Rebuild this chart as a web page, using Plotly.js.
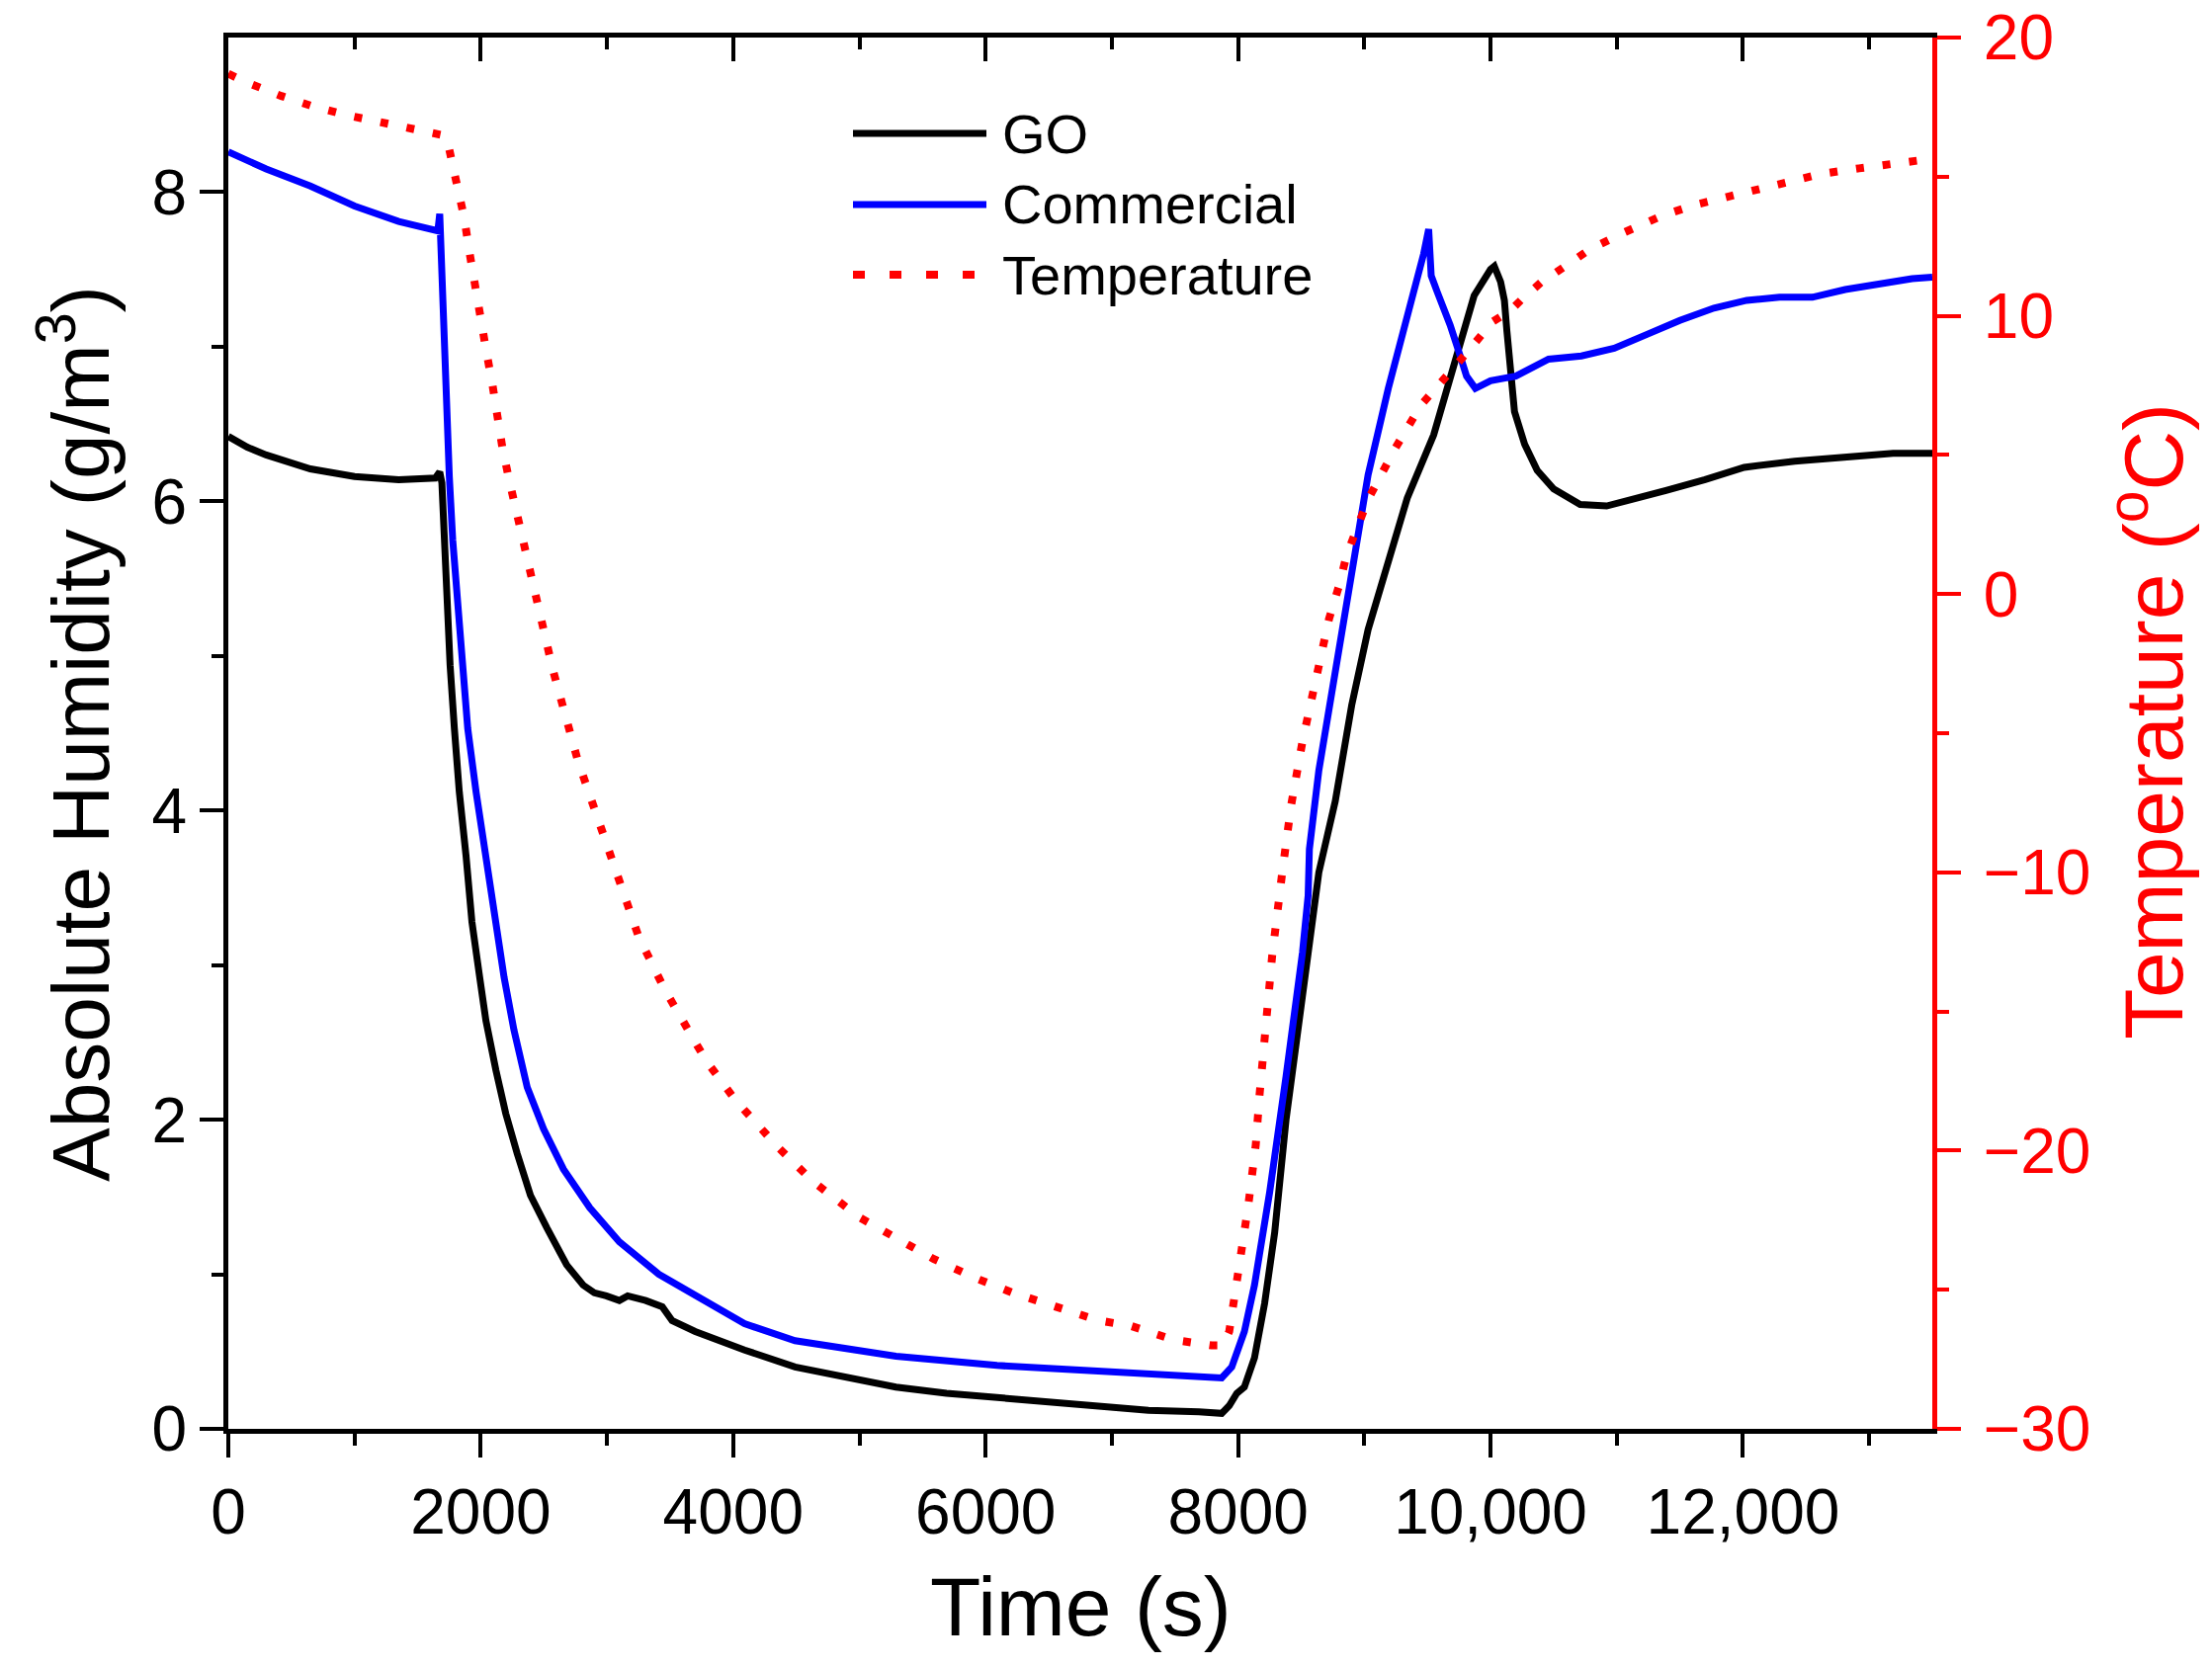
<!DOCTYPE html>
<html>
<head>
<meta charset="utf-8">
<script src="https://cdn.plot.ly/plotly-3.0.1.min.js"></script>
<style>
  body { margin: 0; background: #fff; }
  #plot { width: 2238px; height: 1687px; }
</style>
</head>
<body>
<div id="plot"></div>
<script>
// values
var goTime = [0, 150, 300, 650, 1000, 1350, 1640, 1675, 1692, 1711, 1730, 1757, 1791, 1830, 1883, 1930, 1990, 2041, 2120,
  2198, 2289, 2394, 2524, 2681, 2811, 2900, 2994, 3098, 3164, 3240, 3307, 3438, 3470, 3516, 3699, 4090, 4490, 4890,
  5290, 5690, 6090, 6490, 6890, 7290, 7690, 7870, 7930, 7990, 8050, 8130, 8210, 8290, 8380, 8510, 8640, 8770, 8900,
  9030, 9190, 9340, 9550, 9710, 9870, 10000, 10030, 10080, 10110, 10130, 10160, 10190, 10270, 10370, 10500, 10710,
  10920, 11130, 11390, 11700, 12010, 12410, 12800, 13190, 13500];
var goHum = [6.42, 6.35, 6.30, 6.21, 6.16, 6.14, 6.15, 6.19, 6.12, 5.75, 5.35, 4.94, 4.53, 4.12, 3.71, 3.28, 2.93, 2.64, 2.32,
  2.04, 1.78, 1.51, 1.30, 1.06, 0.93, 0.88, 0.86, 0.83, 0.86, 0.85, 0.83, 0.79, 0.76, 0.70, 0.63, 0.51, 0.40, 0.33,
  0.27, 0.23, 0.20, 0.17, 0.15, 0.12, 0.11, 0.10, 0.15, 0.23, 0.27, 0.46, 0.81, 1.27, 2.00, 2.83, 3.60, 4.06, 4.68,
  5.17, 5.60, 6.02, 6.43, 6.89, 7.33, 7.50, 7.52, 7.42, 7.30, 7.10, 6.80, 6.58, 6.37, 6.20, 6.08, 5.98,
  5.97, 6.01, 6.07, 6.14, 6.22, 6.26, 6.29, 6.31, 6.31];

var comTime = [0, 300, 650, 1000, 1350, 1660, 1675, 1685, 1698, 1711, 1724, 1751, 1778, 1817, 1856, 1897, 1963, 2043, 2110,
  2185, 2263, 2368, 2498, 2655, 2864, 3098, 3411, 3725, 3986, 4090, 4490, 4890, 5290, 6090, 6890, 7690, 7870, 7950,
  8050, 8130, 8250, 8380, 8510, 8555, 8565, 8640, 8770, 8900, 9030, 9190, 9340, 9470, 9510, 9530, 9580, 9680, 9760,
  9810, 9880, 9940, 10000, 10200, 10460, 10720, 10980, 11240, 11500, 11770, 12030, 12290, 12550, 12810, 13080,
  13340, 13500];
var comHum = [8.26, 8.15, 8.04, 7.91, 7.81, 7.75, 7.86, 7.62, 7.39, 6.97, 6.57, 6.16, 5.75, 5.35, 4.94, 4.53, 4.12, 3.70, 3.30,
  2.92, 2.58, 2.21, 1.94, 1.68, 1.43, 1.21, 1.00, 0.85, 0.72, 0.68, 0.57, 0.52, 0.47, 0.41, 0.37, 0.34, 0.33, 0.40,
  0.63, 0.93, 1.53, 2.28, 3.08, 3.45, 3.75, 4.26, 4.88, 5.55, 6.17, 6.73, 7.19, 7.60, 7.76, 7.46, 7.35, 7.14, 6.94,
  6.81, 6.73, 6.76, 6.78, 6.81, 6.92, 6.94, 6.99, 7.08, 7.17, 7.25, 7.30, 7.32, 7.32, 7.37, 7.41,
  7.44, 7.45];

var tempTime = [0, 140, 420, 690, 950, 1260, 1540, 1690, 1735, 1760, 1825, 1870, 1910, 1960, 2000, 2045, 2090, 2130, 2170,
  2225, 2395, 2570, 2770, 3000, 3250, 3456, 3563, 3673, 3790, 4020, 4360, 4630, 5000, 5310, 5590, 5930, 6210, 6550,
  6890, 7150, 7490, 7790, 7880, 7930, 7970, 8010, 8050, 8080, 8110, 8140, 8170, 8220, 8270, 8350, 8420, 8510, 8610,
  8720, 8800, 8860, 9030, 9240, 9450, 9610, 9760, 10020, 10160, 10250, 10400, 10630, 10790, 11060, 11360, 11630,
  11900, 12160, 12620, 12920, 13230, 13420, 13500];
var temp = [18.7, 18.4, 17.9, 17.5, 17.2, 16.9, 16.7, 16.5, 16.3, 15.8, 14.6, 13.5, 12.3, 11.1, 10.0, 8.7, 7.6, 6.4, 5.3,
  4.1, 0.6, -2.7, -6.0, -9.1, -12.3, -14.2, -15.1, -15.9, -16.8, -18.2, -19.9, -21.1, -22.4, -23.2, -23.9, -24.6, -25.1, -25.6,
  -26.1, -26.3, -26.8, -27.0, -27.0, -26.5, -25.3, -24.4, -23.1, -22.0, -20.9, -19.8, -18.0, -15.5, -13.0, -10.0, -7.6, -5.3, -3.2,
  -0.9, 0.3, 1.4, 3.4, 5.2, 6.8, 7.6, 8.4, 9.8, 10.2, 10.6, 11.2, 11.9, 12.4, 13.0, 13.6, 14.0,
  14.3, 14.6, 15.1, 15.3, 15.5, 15.6, 15.6];

var timeTicks = [0, 2000, 4000, 6000, 8000, 10000, 12000];
var timeLabels = ["0", "2000", "4000", "6000", "8000", "10,000", "12,000"];
var timeMinor = [1000, 3000, 5000, 7000, 9000, 11000, 13000];
var humTicks = [0, 2, 4, 6, 8];
var humMinor = [1, 3, 5, 7];
var tempTicks = [-30, -20, -10, 0, 10, 20];
var tempMinor = [-25, -15, -5, 5, 15];

var seriesNames = ["GO", "Commercial", "Temperature"];
var seriesColors = ["#000000", "#0000ff", "#ff0000"];

var FONT = 'Arial, "Liberation Sans", sans-serif';

var trace1 = {
  x: goTime, y: goHum, name: seriesNames[0],
  type: "scatter", mode: "lines",
  line: {color: seriesColors[0], width: 7},
  xaxis: "x", yaxis: "y"
};
var trace2 = {
  x: comTime, y: comHum, name: seriesNames[1],
  type: "scatter", mode: "lines",
  line: {color: seriesColors[1], width: 7},
  xaxis: "x", yaxis: "y"
};
var trace3 = {
  x: tempTime, y: temp, name: seriesNames[2],
  type: "scatter", mode: "lines",
  line: {color: seriesColors[2], width: 8, dash: "8px,19px"},
  xaxis: "x", yaxis: "y2"
};
// empty trace so the top frame axis (inward ticks) gets drawn
var topFrame = {
  x: [0, 13500], y: [null, null], type: "scatter", mode: "lines",
  xaxis: "x2", yaxis: "y", hoverinfo: "skip", showlegend: false
};

var data = [trace1, trace2, topFrame, trace3];

// hand-made legend: long line samples like the original
var legX0 = 0.3666, legX1 = 0.4449, legTextX = 0.4528;
var legY = [0.9311, 0.88, 0.8295];
var legDash = ["solid", "solid", "12px,25px"];
var legWidth = [7, 7, 8];

var shapes = seriesNames.map(function (n, i) {
  return {
    type: "line", xref: "paper", yref: "paper",
    x0: legX0, x1: legX1, y0: legY[i], y1: legY[i],
    line: {color: seriesColors[i], width: legWidth[i], dash: legDash[i]}
  };
});

var annotations = seriesNames.map(function (n, i) {
  return {
    text: n, xref: "paper", yref: "paper", x: legTextX, y: legY[i],
    xanchor: "left", yanchor: "middle", showarrow: false,
    font: {family: FONT, size: 56, color: "#000"}
  };
});

annotations.push({
  text: "Time (s)", xref: "paper", yref: "paper", x: 0.5, y: -0.1280,
  xanchor: "center", yanchor: "middle", showarrow: false,
  font: {family: FONT, size: 84, color: "#000"}
});
annotations.push({
  text: "Absolute Humidity (g/m<sup>3</sup>)", xref: "paper", yref: "paper", x: -0.0905, y: 0.5,
  xanchor: "center", yanchor: "middle", showarrow: false, textangle: -90,
  font: {family: FONT, size: 82, color: "#000"}
});
annotations.push({
  text: "Temperature (<sup>o</sup>C)", xref: "paper", yref: "paper", x: 1.1265, y: 0.5085,
  xanchor: "center", yanchor: "middle", showarrow: false, textangle: -90,
  font: {family: FONT, size: 84, color: "#ff0000"}
});

var layout = {
  width: 2238, height: 1687,
  margin: {l: 231, r: 283, t: 38, b: 241, pad: 0},
  paper_bgcolor: "#fff", plot_bgcolor: "#fff",
  font: {family: FONT, color: "#000"},
  showlegend: false,
  xaxis: {
    range: [0, 13500], tickmode: "array", tickvals: timeTicks, ticktext: timeLabels,
    ticks: "outside", ticklen: 24, tickwidth: 4, tickcolor: "#000",
    minor: {tickmode: "array", tickvals: timeMinor, ticks: "outside", ticklen: 12, tickwidth: 4, tickcolor: "#000"},
    showline: true, linewidth: 5, linecolor: "#000",
    showgrid: false, zeroline: false,
    tickfont: {family: FONT, size: 64, color: "#000"}
  },
  xaxis2: {
    overlaying: "x", side: "top", anchor: "y",
    range: [0, 13500], tickmode: "array", tickvals: timeTicks,
    ticks: "inside", ticklen: 24, tickwidth: 4, tickcolor: "#000",
    minor: {tickmode: "array", tickvals: timeMinor, ticks: "inside", ticklen: 12, tickwidth: 4, tickcolor: "#000"},
    showline: true, linewidth: 5, linecolor: "#000",
    showgrid: false, zeroline: false, showticklabels: false
  },
  yaxis: {
    range: [0, 9], tickmode: "array", tickvals: humTicks,
    ticks: "outside", ticklen: 24, tickwidth: 4, tickcolor: "#000",
    minor: {tickmode: "array", tickvals: humMinor, ticks: "outside", ticklen: 12, tickwidth: 4, tickcolor: "#000"},
    showline: true, linewidth: 5, linecolor: "#000",
    showgrid: false, zeroline: false,
    tickfont: {family: FONT, size: 64, color: "#000"}
  },
  yaxis2: {
    overlaying: "y", side: "right", anchor: "x",
    range: [-30, 20], tickmode: "array", tickvals: tempTicks,
    ticks: "outside", ticklen: 24, tickwidth: 4, tickcolor: "#ff0000",
    minor: {tickmode: "array", tickvals: tempMinor, ticks: "outside", ticklen: 12, tickwidth: 4, tickcolor: "#ff0000"},
    showline: true, linewidth: 5, linecolor: "#ff0000",
    showgrid: false, zeroline: false, ticklabelstandoff: 10,
    tickfont: {family: FONT, size: 64, color: "#ff0000"}
  },
  shapes: shapes,
  annotations: annotations
};

Plotly.newPlot("plot", data, layout, {staticPlot: true});
</script>
</body>
</html>
